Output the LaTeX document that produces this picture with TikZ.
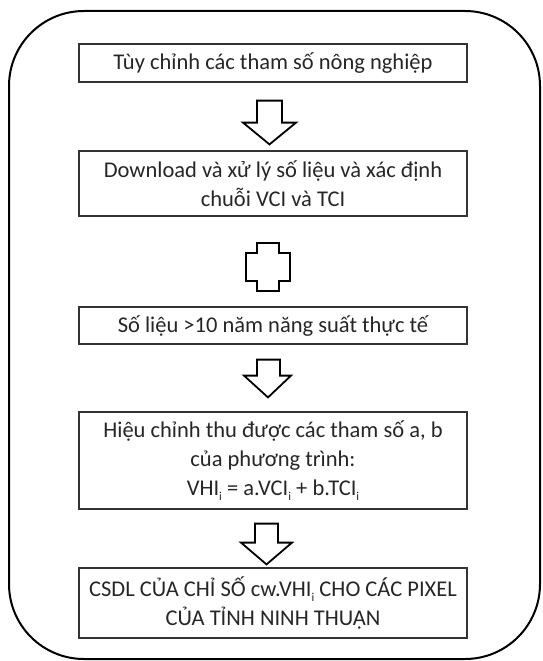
\documentclass[tikz,border=0pt]{standalone}
\usepackage{fontspec}
\setmainfont{Carlito}
\usetikzlibrary{calc}
\newcommand{\lowi}{\raisebox{-0.45ex}{\fontsize{12}{12}\selectfont i}}
\tikzset{
  box/.style={draw=black!80, line width=1.2pt, minimum width=388pt, align=center,
    font=\fontsize{22.5}{29}\selectfont, text=black!85, inner sep=0pt},
  blockarrow/.style={draw=black, line width=1.8pt, fill=white, line join=miter},
  outer/.style={draw=black, line width=2pt, rounded corners=75pt},
}
\begin{document}
\begin{tikzpicture}[x=1pt,y=1pt]
\useasboundingbox (0,0) rectangle (542,-661);
\draw[outer] (9,-11) rectangle (540,-659);

\node[box, minimum height=38pt] (b1) at (273,-63) {Tùy chỉnh các tham số nông nghiệp};
\node[box, minimum height=65pt] (b2) at (273,-183.5) {Download và xử lý số liệu và xác định\\chuỗi VCI và TCI};
\node[box, minimum height=37pt] (b3) at (273,-325.5) {Số liệu >10 năm năng suất thực tế};
\node[box, minimum height=97pt] (b4) at (273,-460.5) {Hiệu chỉnh thu được các tham số a, b\\của phương trình:\\VHI\lowi{} = a.VCI\lowi{} + b.TCI\lowi};
\node[box, minimum height=70pt] (b5) at (273,-603) {CSDL CỦA CHỈ SỐ cw.VHI\lowi{} CHO CÁC PIXEL\\CỦA TỈNH NINH THUẬN};

% block arrow b1 -> b2
\draw[blockarrow] let \p1=(b1.south), \p2=(b2.north) in
  (257pt,\y1-18pt) -- (282pt,\y1-18pt) -- (282pt,\y1-40pt) -- (296pt,\y1-40pt)
  -- (269.5pt,\y2+6pt) -- (243pt,\y1-40pt) -- (257pt,\y1-40pt) -- cycle;

% cross shape between b2 and b3
\draw[blockarrow, line width=2.2pt] let \p1=(b2.south) in
  (257pt,\y1-26pt) -- (279pt,\y1-26pt) -- (279pt,\y1-36pt) -- (290pt,\y1-36pt)
  -- (290pt,\y1-64pt) -- (279pt,\y1-64pt) -- (279pt,\y1-74pt) -- (257pt,\y1-74pt)
  -- (257pt,\y1-64pt) -- (246pt,\y1-64pt) -- (246pt,\y1-36pt) -- (257pt,\y1-36pt) -- cycle;

% block arrow b3 -> b4
\draw[blockarrow] let \p1=(b3.south), \p2=(b4.north) in
  (257pt,\y1-15pt) -- (280pt,\y1-15pt) -- (280pt,\y1-31pt) -- (291pt,\y1-31pt)
  -- (268pt,\y2+14pt) -- (244pt,\y1-31pt) -- (257pt,\y1-31pt) -- cycle;

% block arrow b4 -> b5
\draw[blockarrow] let \p1=(b4.south), \p2=(b5.north) in
  (255pt,\y1-14pt) -- (278pt,\y1-14pt) -- (278pt,\y1-33pt) -- (292pt,\y1-33pt)
  -- (266.5pt,\y2+3pt) -- (241pt,\y1-33pt) -- (255pt,\y1-33pt) -- cycle;
\end{tikzpicture}
\end{document}
